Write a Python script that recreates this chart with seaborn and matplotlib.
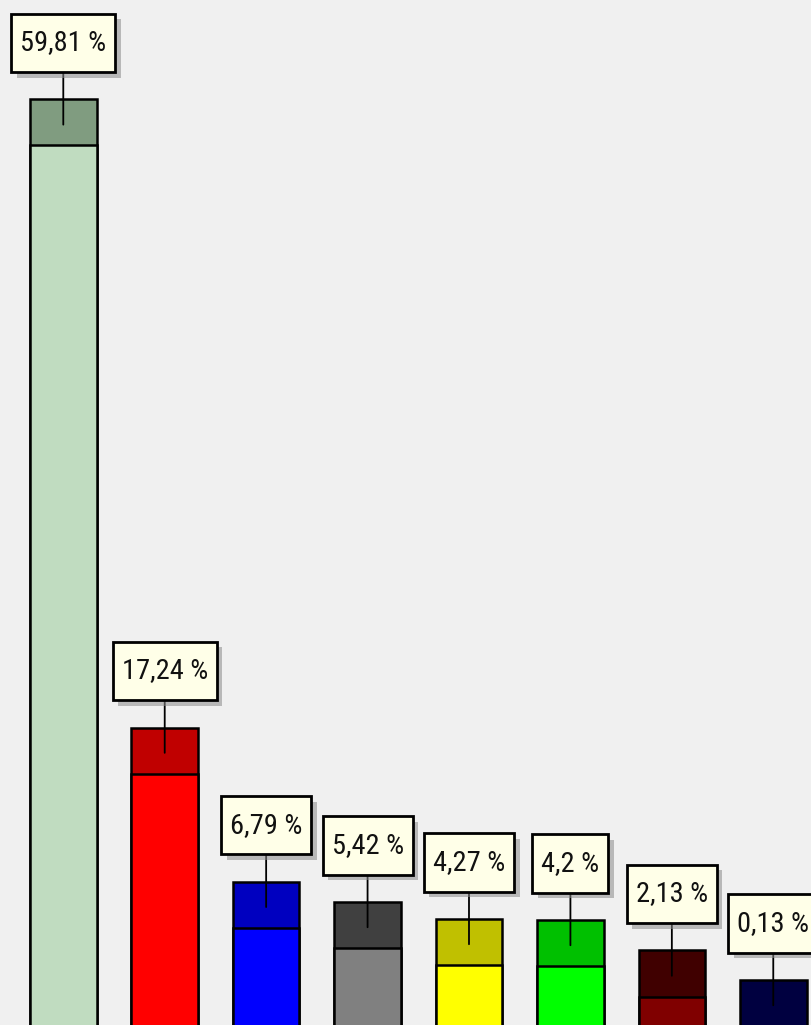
import numpy as np
import matplotlib
matplotlib.use("Agg")
import matplotlib.pyplot as plt
import matplotlib.patheffects as pe
from matplotlib import font_manager as fm
import seaborn as sns

sns.set_theme(style="white")
plt.rcParams['font.family'] = ['DejaVu Sans']

# data
parties = ["P1", "P2", "P3", "P4", "P5", "P6", "P7", "P8"]
values = [59.81, 17.24, 6.79, 5.42, 4.27, 4.2, 2.13, 0.13]
labels = ["59,81 %", "17,24 %", "6,79 %", "5,42 %", "4,27 %", "4,2 %", "2,13 %", "0,13 %"]
light_colors = ["#c0dcc0", "#ff0000", "#0000ff", "#808080", "#ffff00", "#00ff00", "#800000", "#000080"]
dark_colors = ["#809c80", "#c00000", "#0000c0", "#404040", "#c0c000", "#00c000", "#400000", "#000040"]

CAP = 3.12  # fixed dark cap on top of each bar (in value units)
BG = "#f0f0f0"


def pick_narrow_font():
    # the original labels use a narrow face; take one if installed
    best = None
    for f in fm.fontManager.ttflist:
        if f.style != "normal" or f.weight not in (400, "normal", "regular", "book"):
            continue
        narrow = "Narrow" in f.name or "Condensed" in f.name or \
            f.stretch in ("condensed", "semi-condensed", "extra-condensed")
        if not narrow:
            continue
        rank = 0 if "Liberation" in f.name else 1 if "Roboto" in f.name else 2
        if best is None or rank < best[0]:
            best = (rank, f.fname)
    if best:
        return fm.FontProperties(fname=best[1])
    return fm.FontProperties(family="Roboto")


fig = plt.figure(figsize=(8.11, 10.25), dpi=100)
fig.patch.set_facecolor(BG)
ax = fig.add_axes([0, 0, 1, 1])
ax.set_facecolor(BG)

totals = [v + CAP for v in values]
sns.barplot(x=parties, y=totals, hue=parties, palette=dark_colors, legend=False,
            width=0.657, edgecolor="black", linewidth=1.8, saturation=1, ax=ax)
sns.barplot(x=parties, y=values, hue=parties, palette=light_colors, legend=False,
            width=0.657, edgecolor="black", linewidth=1.8, saturation=1, ax=ax)

ax.set_xlim(-0.624, 7.372)
ax.set_ylim(0.2, 69.66)

# size the label font so "59,81 %" is about 86 px wide
fp = pick_narrow_font()
renderer = fig.canvas.get_renderer()
probe = fig.text(0, 0, labels[0], fontproperties=fp, fontsize=20)
bb = probe.get_window_extent(renderer)
probe.remove()
fsize = min(26, 20 * 86 / bb.width)
text_h = bb.height * fsize / 20
pad_px = 9
pad = pad_px / (fsize * 100 / 72)
aspect = ((59 - text_h) / 2) / pad_px

for i, (v, lab) in enumerate(zip(values, labels)):
    t = ax.annotate(lab, xy=(i, v + CAP * 0.45), xytext=(i, v + CAP + 3.83),
                    ha="center", va="center", fontproperties=fp, fontsize=fsize,
                    color="#111111",
                    bbox=dict(boxstyle=f"square,pad={pad:.3f}", fc="#ffffe8", ec="black",
                              lw=2, mutation_aspect=aspect),
                    arrowprops=dict(arrowstyle="-", color="black", lw=1.3,
                                    shrinkA=0, shrinkB=0),
                    zorder=5)
    t.get_bbox_patch().set_path_effects([
        pe.SimplePatchShadow(offset=(4, -4), shadow_rgbFace="#8a8a8a", alpha=0.55),
        pe.Normal()])

ax.set_xticks([])
ax.set_yticks([])
ax.set_xlabel("")
ax.set_ylabel("")
for s in ax.spines.values():
    s.set_visible(False)

fig.savefig("out.png", dpi=100, facecolor=BG)
